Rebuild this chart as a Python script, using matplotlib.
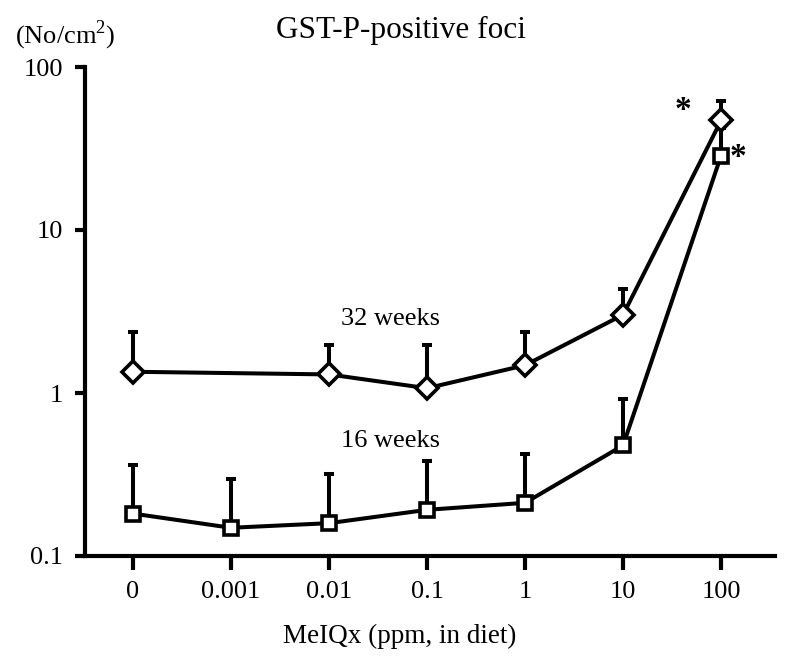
import matplotlib
matplotlib.use('Agg')
import matplotlib.pyplot as plt
import numpy as np

matplotlib.rcParams['font.family'] = ['Liberation Serif', 'DejaVu Serif']

# Data
doses = ['0', '0.001', '0.01', '0.1', '1', '10', '100']

x32 = [0, 2, 3, 4, 5, 6]
mean32 = [1.35, 1.30, 1.07, 1.48, 3.02, 47.0]
upper32 = [2.36, 1.98, 1.98, 2.36, 4.36, 62.0]

x16 = [0, 1, 2, 3, 4, 5, 6]
mean16 = [0.182, 0.149, 0.159, 0.192, 0.212, 0.477, 28.6]
upper16 = [0.360, 0.297, 0.319, 0.382, 0.420, 0.925, 42.0]

fig = plt.figure(figsize=(7.87, 6.63), dpi=100)
ax = fig.add_axes([85/787., 1 - 556/663., 690/787., 489/663.])

lw = 2.9
for x, m, u, mk, ms in [(x16, mean16, upper16, 's', 10.5), (x32, mean32, upper32, 'D', 11)]:
    m = np.array(m)
    err = np.vstack([np.zeros_like(m), np.array(u) - m])
    ax.errorbar(x, m, yerr=err, fmt='none', ecolor='k', elinewidth=lw,
                capsize=3.4, capthick=lw, zorder=2)
    ax.plot(x, m, color='k', lw=lw, marker=mk, ms=ms, mfc='white',
            mec='k', mew=2.6, zorder=3)

ax.set_yscale('log')
ax.set_ylim(0.1, 100)
ax.set_xlim(-0.49, 6.55)
ax.set_yticks([0.1, 1, 10, 100])
ax.set_yticklabels(['0.1', '1', '10', '100'])
ax.yaxis.set_minor_locator(matplotlib.ticker.NullLocator())
ax.set_xticks(range(len(doses)))
ax.set_xticklabels(doses)

for s in ['top', 'right']:
    ax.spines[s].set_visible(False)
for s in ['left', 'bottom']:
    ax.spines[s].set_linewidth(3)
ax.tick_params(axis='y', direction='out', length=7, width=3, pad=9, labelsize=19)
ax.tick_params(axis='x', direction='out', length=10, width=3, pad=8, labelsize=19)

ax.text(2.63, 2.83, '32 weeks', ha='center', va='center', fontsize=19)
ax.text(2.63, 0.506, '16 weeks', ha='center', va='center', fontsize=19)
ax.text(5.61, 54.0, '*', ha='center', va='center', fontsize=24, fontweight='bold')
ax.text(6.17, 28.0, '*', ha='center', va='center', fontsize=24, fontweight='bold')

fig.text(401/787., 1 - 30/663., 'GST-P-positive foci', ha='center', va='center', fontsize=22.5)
fig.text(15/787., 1 - 35/663., '(No/cm$^\\mathregular{2}$)', ha='left', va='center', fontsize=19)
fig.text(400/787., 1 - 636/663., 'MeIQx (ppm, in diet)', ha='center', va='center', fontsize=19.5)

plt.savefig('out.png', dpi=100)
